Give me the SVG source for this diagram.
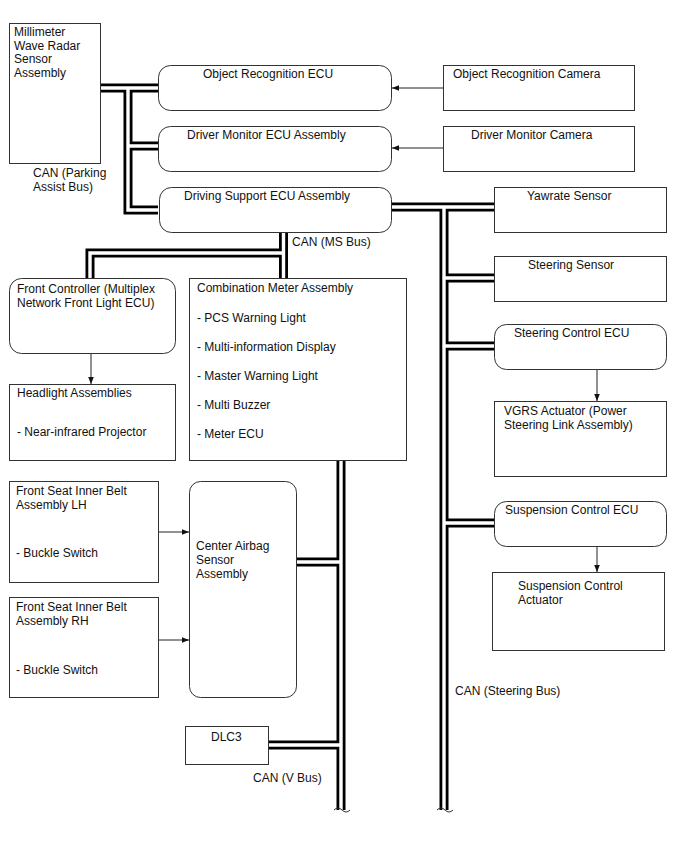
<svg xmlns="http://www.w3.org/2000/svg" width="688" height="852" viewBox="0 0 688 852">
<style>
.box{fill:#fff;stroke:#333;stroke-width:1}
text{font-family:"Liberation Sans",Arial,sans-serif;font-size:12px;fill:#111}
.arr{stroke:#222;stroke-width:1;fill:none;marker-end:url(#ah)}
.busB{fill:none;stroke:#000;stroke-width:9;stroke-linejoin:miter}
.busW{fill:none;stroke:#fff;stroke-width:3.4;stroke-linejoin:miter}
.brk{fill:none;stroke:#333;stroke-width:1}
</style>
<defs>
<marker id="ah" viewBox="0 0 8 8" refX="8" refY="4" markerWidth="7" markerHeight="7" markerUnits="userSpaceOnUse" orient="auto">
<path d="M0,0.8 L8,4 L0,7.2 Z" fill="#111"/>
</marker>
<path id="bP" d="M101,88 H158 M128,88 V210 H158 M128,146 H158"/>
<path id="bM" d="M283.5,233 V278 M283.5,253 H90 V279"/>
<path id="bS" d="M392,207 H494 M444,207 V810 M444,278 H494 M444,346 H494 M444,523 H494"/>
<path id="bV" d="M341,461 V810 M341,562 H296 M341,745 H269"/>
</defs>
<rect width="688" height="852" fill="#fff"/>

<g id="connectors">
<use href="#bP" class="busB"/><use href="#bM" class="busB"/><use href="#bS" class="busB"/><use href="#bV" class="busB"/>
<use href="#bP" class="busW"/><use href="#bM" class="busW"/><use href="#bS" class="busW"/><use href="#bV" class="busW"/>
<path class="brk" d="M334,810 q4,-4 8,0 t8,0"/>
<path class="brk" d="M437,810 q4,-4 8,0 t8,0"/>
<line class="arr" x1="443" y1="88" x2="392" y2="88"/>
<line class="arr" x1="443" y1="148" x2="392" y2="148"/>
<line class="arr" x1="91" y1="354" x2="91" y2="384"/>
<line class="arr" x1="597" y1="370" x2="597" y2="401"/>
<line class="arr" x1="597" y1="546" x2="597" y2="572"/>
<line class="arr" x1="159" y1="532" x2="189" y2="532"/>
<line class="arr" x1="159" y1="640" x2="189" y2="640"/>
<text x="33" y="177">CAN (Parking</text>
<text x="33" y="191">Assist Bus)</text>
<text x="292" y="246">CAN (MS Bus)</text>
<text x="253" y="782">CAN (V Bus)</text>
<text x="455" y="695">CAN (Steering Bus)</text>
</g>

<g id="radar"><rect class="box" x="9.5" y="23.5" width="91" height="140"/>
<text x="14" y="36">Millimeter</text><text x="14" y="49.5">Wave Radar</text><text x="14" y="63">Sensor</text><text x="14" y="76.5">Assembly</text></g>

<g id="objecu"><rect class="box" x="158.5" y="65.5" width="233" height="45" rx="12"/>
<text x="203" y="78">Object Recognition ECU</text></g>
<g id="objcam"><rect class="box" x="443.5" y="65.5" width="191" height="45"/>
<text x="453" y="78">Object Recognition Camera</text></g>

<g id="dmecu"><rect class="box" x="158.5" y="126.5" width="233" height="45" rx="12"/>
<text x="187" y="139">Driver Monitor ECU Assembly</text></g>
<g id="dmcam"><rect class="box" x="443.5" y="126.5" width="191" height="45"/>
<text x="471" y="139">Driver Monitor Camera</text></g>

<g id="dsecu"><rect class="box" x="159.5" y="187.5" width="232" height="45" rx="12"/>
<text x="184" y="200">Driving Support ECU Assembly</text></g>

<g id="yaw"><rect class="box" x="494.5" y="187.5" width="172" height="45"/>
<text x="527" y="200">Yawrate Sensor</text></g>
<g id="strsens"><rect class="box" x="494.5" y="256.5" width="172" height="45"/>
<text x="528" y="269">Steering Sensor</text></g>
<g id="strecu"><rect class="box" x="494.5" y="324.5" width="172" height="45" rx="12"/>
<text x="514" y="337">Steering Control ECU</text></g>
<g id="vgrs"><rect class="box" x="494.5" y="401.5" width="172" height="75"/>
<text x="504" y="415">VGRS Actuator (Power</text><text x="504" y="429">Steering Link Assembly)</text></g>
<g id="susecu"><rect class="box" x="494.5" y="501.5" width="172" height="45" rx="12"/>
<text x="505" y="514">Suspension Control ECU</text></g>
<g id="susact"><rect class="box" x="492.5" y="572.5" width="172" height="78"/>
<text x="518" y="590">Suspension Control</text><text x="518" y="604">Actuator</text></g>

<g id="frontctl"><rect class="box" x="9.5" y="278.5" width="166" height="75" rx="12"/>
<text x="17" y="293">Front Controller (Multiplex</text><text x="17" y="307">Network Front Light ECU)</text></g>
<g id="headlight"><rect class="box" x="9.5" y="384.5" width="166" height="76"/>
<text x="17" y="397">Headlight Assemblies</text><text x="17" y="436">- Near-infrared Projector</text></g>

<g id="meter"><rect class="box" x="189.5" y="278.5" width="217" height="182"/>
<text x="197" y="292">Combination Meter Assembly</text>
<text x="197" y="322">- PCS Warning Light</text>
<text x="197" y="351">- Multi-information Display</text>
<text x="197" y="380">- Master Warning Light</text>
<text x="197" y="409">- Multi Buzzer</text>
<text x="197" y="438">- Meter ECU</text></g>

<g id="beltlh"><rect class="box" x="9.5" y="481.5" width="149" height="101"/>
<text x="16" y="495">Front Seat Inner Belt</text><text x="16" y="509">Assembly LH</text><text x="16" y="557">- Buckle Switch</text></g>
<g id="beltrh"><rect class="box" x="9.5" y="597.5" width="149" height="100"/>
<text x="16" y="611">Front Seat Inner Belt</text><text x="16" y="625">Assembly RH</text><text x="16" y="674">- Buckle Switch</text></g>

<g id="airbag"><rect class="box" x="189.5" y="481.5" width="107" height="216" rx="11"/>
<text x="196" y="550">Center Airbag</text><text x="196" y="564">Sensor</text><text x="196" y="578">Assembly</text></g>

<g id="dlc3"><rect class="box" x="185.5" y="726.5" width="83" height="38"/>
<text x="211" y="741">DLC3</text></g>
</svg>
